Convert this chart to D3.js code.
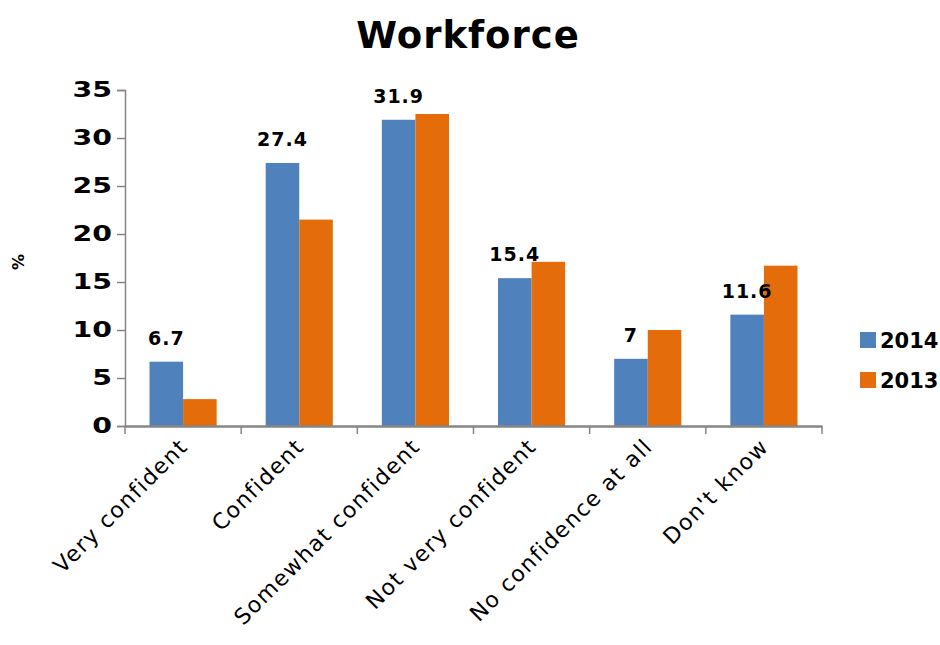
<!DOCTYPE html>
<html>
<head>
<meta charset="utf-8">
<script src="https://cdn.jsdelivr.net/npm/d3@7"></script>
<style>
  html, body { margin: 0; padding: 0; background: #fff; }
  svg { display: block; }
  text { font-family: "DejaVu Sans", sans-serif; fill: #000; }
</style>
</head>
<body>
<svg id="chart" width="940" height="645"></svg>
<script>
// Survey answers by year
const categories = ["Very confident", "Confident", "Somewhat confident", "Not very confident", "No confidence at all", "Don't know"];
const seriesNames = ["2014", "2013"];
const values2014 = [6.7, 27.4, 31.9, 15.4, 7, 11.6];
const values2013 = [2.8, 21.5, 32.5, 17.1, 10.0, 16.7];
const yTicks = [0, 5, 10, 15, 20, 25, 30, 35];
const colors = ["#4F81BD", "#E46C0A"];

const svg = d3.select("#chart");
const margin = { left: 125, right: 118, top: 90, bottom: 219 };
const W = 940, H = 645;

const x = d3.scaleBand().domain(categories).range([margin.left, W - margin.right]).paddingInner(0).paddingOuter(0);
const inner = d3.scaleBand().domain(seriesNames).range([0, x.bandwidth()]).paddingInner(0).paddingOuter(0.73);
const y = d3.scaleLinear().domain([0, 35]).range([H - margin.bottom, margin.top]);

const rows = categories.map((c, i) => ({ cat: c, vals: [values2014[i], values2013[i]] }));

// Title
svg.append("text")
  .attr("x", 468).attr("y", 48)
  .attr("text-anchor", "middle")
  .attr("font-size", 37).attr("font-weight", "bold")
  .attr("letter-spacing", 1)
  .text("Workforce");

// Y axis
const yAxis = svg.append("g")
  .attr("transform", `translate(${margin.left},0)`)
  .call(d3.axisLeft(y).tickValues(yTicks).tickSize(8).tickPadding(5).tickFormat(d3.format("d")));
yAxis.select(".domain").attr("stroke", "#868686").attr("stroke-width", 1.5);
yAxis.selectAll(".tick line").attr("stroke", "#868686").attr("stroke-width", 1.5);
const sx = 1.35;
yAxis.selectAll(".tick text")
  .attr("font-size", 21).attr("font-weight", "bold")
  .style("font-family", "'DejaVu Sans', sans-serif")
  .attr("x", -13 / sx)
  .attr("transform", `scale(${sx},1)`);

// Y axis title
svg.append("text")
  .attr("transform", "translate(24,262) rotate(-90)")
  .attr("text-anchor", "middle")
  .attr("font-size", 16).attr("font-weight", "bold")
  .text("%");

// Bars
const groups = svg.append("g").selectAll("g")
  .data(rows).join("g")
  .attr("transform", d => `translate(${x(d.cat)},0)`);

groups.selectAll("rect")
  .data(d => d.vals.map((v, j) => ({ key: seriesNames[j], v, j })))
  .join("rect")
  .attr("x", d => inner(d.key))
  .attr("width", inner.bandwidth())
  .attr("y", d => y(d.v))
  .attr("height", d => y(0) - y(d.v))
  .attr("fill", d => colors[d.j]);

// Value labels for 2014
groups.append("text")
  .attr("x", inner("2014") + inner.bandwidth() / 2)
  .attr("y", d => y(d.vals[0]) - 17)
  .attr("text-anchor", "middle")
  .attr("font-size", 19).attr("font-weight", "bold")
  .attr("letter-spacing", 1)
  .text(d => d.vals[0]);

// X axis
const xAxis = svg.append("g")
  .attr("transform", `translate(0,${y(0)})`)
  .call(d3.axisBottom(x).tickSize(0).tickFormat(""));
xAxis.select(".domain").attr("stroke", "#868686").attr("stroke-width", 2.5);
// boundary tick marks between categories
const bounds = categories.map(c => x(c)).concat([x.range()[1]]);
svg.append("g").selectAll("line").data(bounds).join("line")
  .attr("x1", d => d).attr("x2", d => d)
  .attr("y1", y(0)).attr("y2", y(0) + 8)
  .attr("stroke", "#868686").attr("stroke-width", 1.5);

// Rotated category labels
svg.append("g").selectAll("text")
  .data(categories).join("text")
  .attr("transform", c => `translate(${x(c) + x.bandwidth() / 2 + 6},${y(0) + 22}) rotate(-45)`)
  .attr("text-anchor", "end")
  .attr("font-size", 22)
  .attr("letter-spacing", 1.4)
  .text(c => c);

// Legend
const legend = svg.append("g").selectAll("g")
  .data(seriesNames).join("g")
  .attr("transform", (d, i) => `translate(860,${332 + i * 40})`);
legend.append("rect").attr("width", 16).attr("height", 16).attr("fill", (d, i) => colors[i]);
legend.append("text")
  .attr("x", 20).attr("y", 16)
  .attr("font-size", 21).attr("font-weight", "bold")
  .text(d => d);
</script>
</body>
</html>
